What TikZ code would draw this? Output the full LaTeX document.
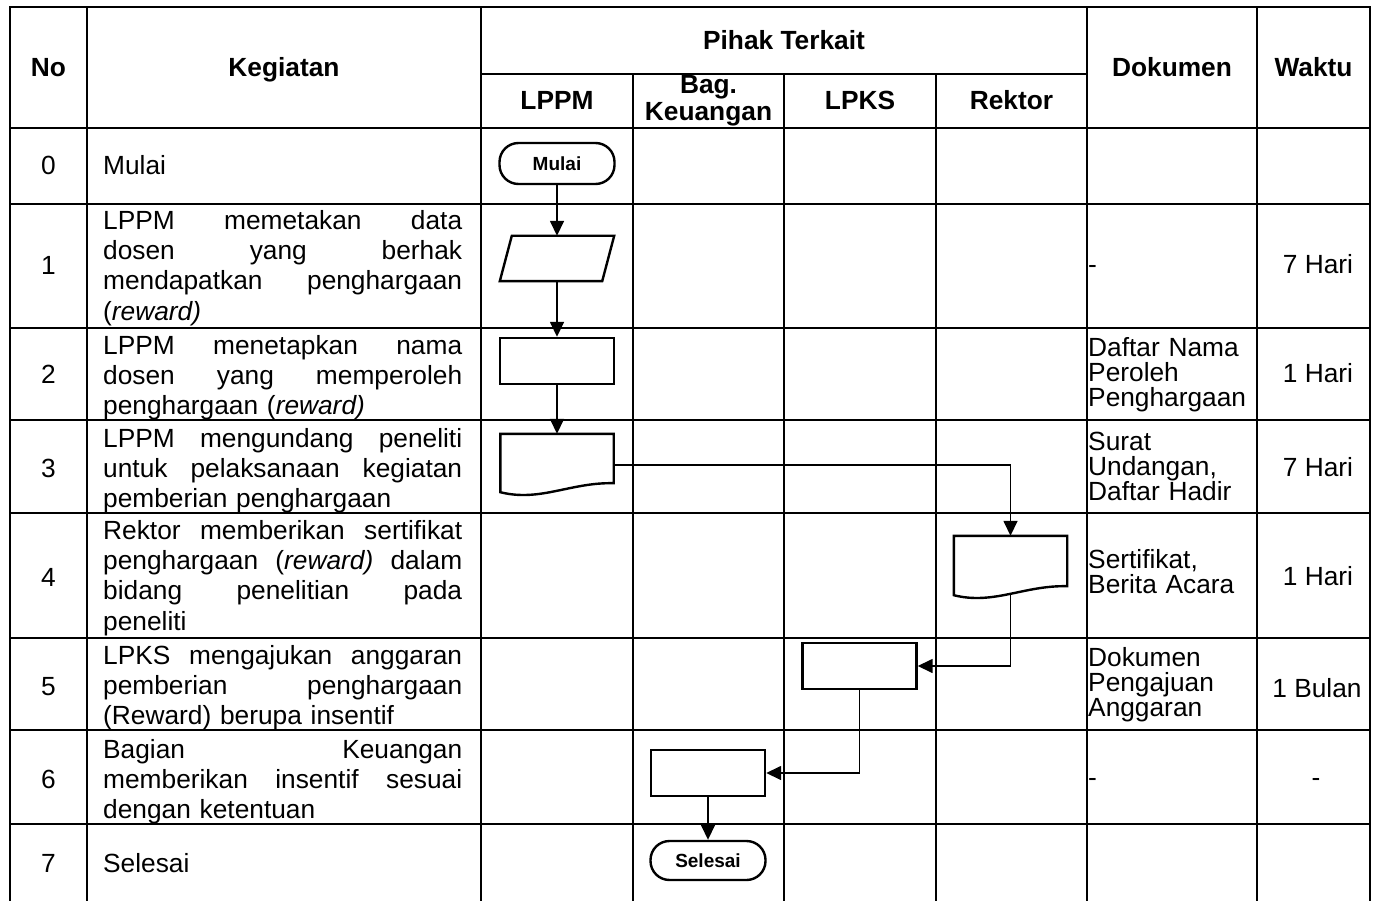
\documentclass[tikz,border=0pt]{standalone}
\usepackage{fontspec}
\setmainfont{Liberation Sans}
\usetikzlibrary{arrows.meta,calc}
\pgfdeclarelayer{back}
\pgfsetlayers{back,main}
\newcommand{\jl}[1]{\leavevmode\hbox to 359pt{\spaceskip=0pt\xspaceskip=0pt #1}}
\begin{document}
\begin{tikzpicture}[x=1pt,y=-1pt,
  grid/.style={line width=2.6pt,line cap=rect},
  conn/.style={line width=1.6pt},
  arr/.style={conn,-{Triangle[length=15pt,width=14pt]}},
  shp/.style={draw,line width=2.4pt,fill=white,inner sep=0pt},
  procbox/.style={shp,rectangle,minimum width=114pt,minimum height=46pt},
  termbox/.style={shp,rectangle,rounded corners=19pt,minimum width=115pt,minimum height=41pt,font=\fontsize{19}{22}\selectfont\bfseries},
  hidbox/.style={rectangle,inner sep=0pt},
  outl/.style={line width=2.4pt,fill=white,line join=miter},
  hd/.style={font=\fontsize{26.3}{27}\selectfont\bfseries,inner sep=0pt,align=center},
  bd/.style={font=\fontsize{26.3}{30.2}\selectfont,inner sep=0pt},
  kg/.style={bd,anchor=base west,text width=359pt,align=left},
  dk/.style={font=\fontsize{26.3}{25}\selectfont,inner sep=0pt,anchor=base west,text width=165pt,align=left},
  num/.style={bd,anchor=base},
]
\useasboundingbox (0,0) rectangle (1379,901);

% header
\node[hd,anchor=base] (hNo) at (48.5,77) {No};
\node[hd,anchor=base] (hKeg) at (284,77) {Kegiatan};
\node[hd,anchor=base] (hPihak) at (784,50) {Pihak Terkait};
\node[hd,anchor=base] (hLPPM) at (557,110) {LPPM};
\node[hd] (hBag) at (708.5,101) {Bag.\\Keuangan};
\node[hd,anchor=base] (hLPKS) at (860,110) {LPKS};
\node[hd,anchor=base] (hRek) at (1011.5,110) {Rektor};
\node[hd,anchor=base] (hDok) at (1172,77) {Dokumen};
\node[hd,anchor=base] (hWak) at (1313.5,77) {Waktu};

% numbers
\node[num] (n0) at (48.5,175) {0};
\node[num] (n1) at (48.5,275) {1};
\node[num] (n2) at (48.5,383) {2};
\node[num] (n3) at (48.5,477) {3};
\node[num] (n4) at (48.5,586) {4};
\node[num] (n5) at (48.5,695) {5};
\node[num] (n6) at (48.5,788) {6};
\node[num] (n7) at (48.5,872.5) {7};

% kegiatan
\node[kg] (k0) at (103,175) {Mulai};
\node[kg] (k1) at (103,229.5) {\jl{LPPM memetakan data}\\\jl{dosen yang berhak}\\\jl{mendapatkan penghargaan}\\(\textit{reward)}};
\node[kg] (k2) at (103,354) {\jl{LPPM menetapkan nama}\\\jl{dosen yang memperoleh}\\penghargaan (\textit{reward)}};
\node[kg] (k3) at (103,447.5) {\jl{LPPM mengundang peneliti}\\\jl{untuk pelaksanaan kegiatan}\\pemberian penghargaan};
\node[kg] (k4) at (103,539.5) {\jl{Rektor memberikan sertifikat}\\\jl{penghargaan (\textit{reward)} dalam}\\\jl{bidang penelitian pada}\\peneliti};
\node[kg] (k5) at (103,664) {\jl{LPKS mengajukan anggaran}\\\jl{pemberian penghargaan}\\(Reward) berupa insentif};
\node[kg] (k6) at (103,758.5) {\jl{Bagian Keuangan}\\\jl{memberikan insentif sesuai}\\dengan ketentuan};
\node[kg] (k7) at (103,872) {Selesai};

% dokumen
\node[bd,anchor=west] (dk1) at (1088,269) {-};
\node[dk] (dk2) at (1088,356.7) {Daftar Nama\\Peroleh\\Penghargaan};
\node[dk] (dk3) at (1088,450) {Surat\\Undangan,\\Daftar Hadir};
\node[dk] (dk4) at (1088,568.3) {Sertifikat,\\Berita Acara};
\node[dk] (dk5) at (1088,666.7) {Dokumen\\Pengajuan\\Anggaran};
\node[bd,anchor=west] (dk6) at (1088,782) {-};

% waktu
\node[num] (w1) at (1318,273.5) {7 Hari};
\node[num] (w2) at (1318,382) {1 Hari};
\node[num] (w3) at (1318,476.5) {7 Hari};
\node[num] (w4) at (1318,585) {1 Hari};
\node[num] (w5) at (1317,697) {1 Bulan};
\node[bd] (w6) at (1316,782) {-};

% flow shapes
\node[termbox] (m0) at (557,163.5) {Mulai};
\node[hidbox,minimum width=102pt,minimum height=45pt] (p1) at (557,258.5) {};
\draw[outl] ($(p1.south west)+(-6,0)$) -- ($(p1.north west)+(6,0)$) -- ($(p1.north east)+(6,0)$) -- ($(p1.south east)+(-6,0)$) -- cycle;
\node[procbox] (r2) at (557,361) {};
\node[hidbox,minimum width=113pt,minimum height=58pt] (d3) at (557,463) {};
\draw[outl] (d3.south west) -- (d3.north west) -- (d3.north east) -- ($(d3.south east)+(0,-9)$) .. controls ($(d3.south west)+(70,-10)$) and ($(d3.south west)+(40,10)$) .. (d3.south west) -- cycle;
\node[hidbox,minimum width=113pt,minimum height=59pt] (d4) at (1010.5,565.5) {};
\draw[outl] (d4.south west) -- (d4.north west) -- (d4.north east) -- ($(d4.south east)+(0,-9)$) .. controls ($(d4.south west)+(70,-10)$) and ($(d4.south west)+(40,10)$) .. (d4.south west) -- cycle;
\node[procbox] (r5) at (859.5,666) {};
\node[procbox] (r6) at (708,773) {};
\node[termbox,minimum height=39pt] (t7) at (708,860.5) {Selesai};

\begin{pgfonlayer}{back}
\foreach \x in {10,87,481,1087,1257,1370} \draw[grid] (\x,7) -- (\x,901);
\foreach \x in {633,784,936} \draw[grid] (\x,74) -- (\x,901);
\draw[grid] (481,74) -- (1087,74);
\foreach \y in {7,128,204,328,420,513,638,730,824} \draw[grid] (10,\y) -- (1370,\y);
\draw[arr] (m0.south) -- (p1.north);
\draw[arr] (p1.south) -- (r2.north);
\draw[arr] (r2.south) -- (d3.north);
\draw[arr] ([yshift=-2pt]d3.east) -| (d4.north);
\draw[arr] (d4.center) |- (r5.east);
\draw[arr] (r5.center) |- (r6.east);
\draw[arr] (r6.south) -- (t7.north);
\end{pgfonlayer}
\end{tikzpicture}
\end{document}
